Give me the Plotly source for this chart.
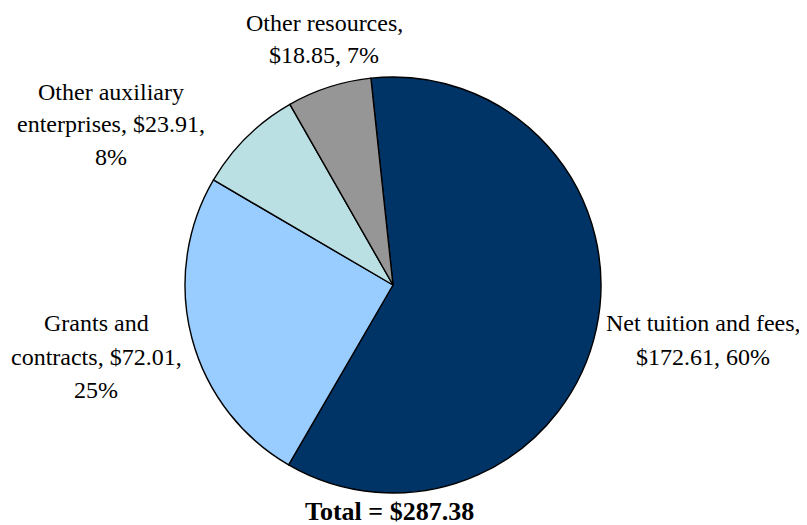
import plotly.graph_objects as go

# ---- data ----
categories = ["Net tuition and fees", "Grants and contracts",
              "Other auxiliary enterprises", "Other resources"]
values = [172.61, 72.01, 23.91, 18.85]
colors = ["#003366", "#99CCFF", "#BBE0E3", "#969696"]
# how each outside label is wrapped (name lines), value/percent appended
label_name_lines = [
    ["Net tuition and fees,"],
    ["Grants and", "contracts,"],
    ["Other auxiliary", "enterprises,"],
    ["Other resources,"],
]
total = sum(values)
total_text = f"Total = ${total:.2f}"

# page has an 8px body margin; figure sized to fit the 807x525 window
OFF = 8
W, H = 807 - OFF, 525 - OFF
FONT = "Liberation Serif"


def px_x(x):
    return (x - OFF) / W


def px_y(y):
    return 1 - (y - OFF) / H


fig = go.Figure(go.Pie(
    labels=categories,
    values=values,
    sort=False,
    direction="clockwise",
    rotation=-6.1,
    marker=dict(colors=colors, line=dict(color="#000000", width=1.4)),
    textinfo="none",
    hoverinfo="label+value+percent",
    domain=dict(x=[px_x(185), px_x(601)], y=[px_y(493), px_y(77)]),
    showlegend=False,
))


# build label lines from the data
def label_lines(i):
    pct = round(values[i] / total * 100)
    val = f"${values[i]:.2f}"
    names = label_name_lines[i]
    if len(names) == 1:
        return [names[0], f"{val}, {pct}%"]
    return [names[0], f"{names[1]} {val},", f"{pct}%"]


# label placement (pixel centre x, first-line y, line step)
placements = [
    (703, 323, 34),
    (96, 323, 33.5),
    (111, 92, 32.5),
    (324, 23, 32),
]

annotations = []
for i, (cx, y0, step) in enumerate(placements):
    for j, line in enumerate(label_lines(i)):
        annotations.append(dict(
            text=line, x=px_x(cx), y=px_y(y0 + j * step),
            xref="paper", yref="paper", xanchor="center", yanchor="middle",
            showarrow=False, font=dict(family=FONT, size=24, color="#000000"),
        ))

annotations.append(dict(
    text=f"<b>{total_text}</b>", x=px_x(389), y=px_y(511),
    xref="paper", yref="paper", xanchor="center", yanchor="middle",
    showarrow=False, font=dict(family=FONT, size=26, color="#000000"),
))

fig.update_layout(
    width=W, height=H,
    margin=dict(l=0, r=0, t=0, b=0),
    paper_bgcolor="#FFFFFF",
    plot_bgcolor="#FFFFFF",
    annotations=annotations,
    font=dict(family=FONT),
)

fig.write_html("out.html")
